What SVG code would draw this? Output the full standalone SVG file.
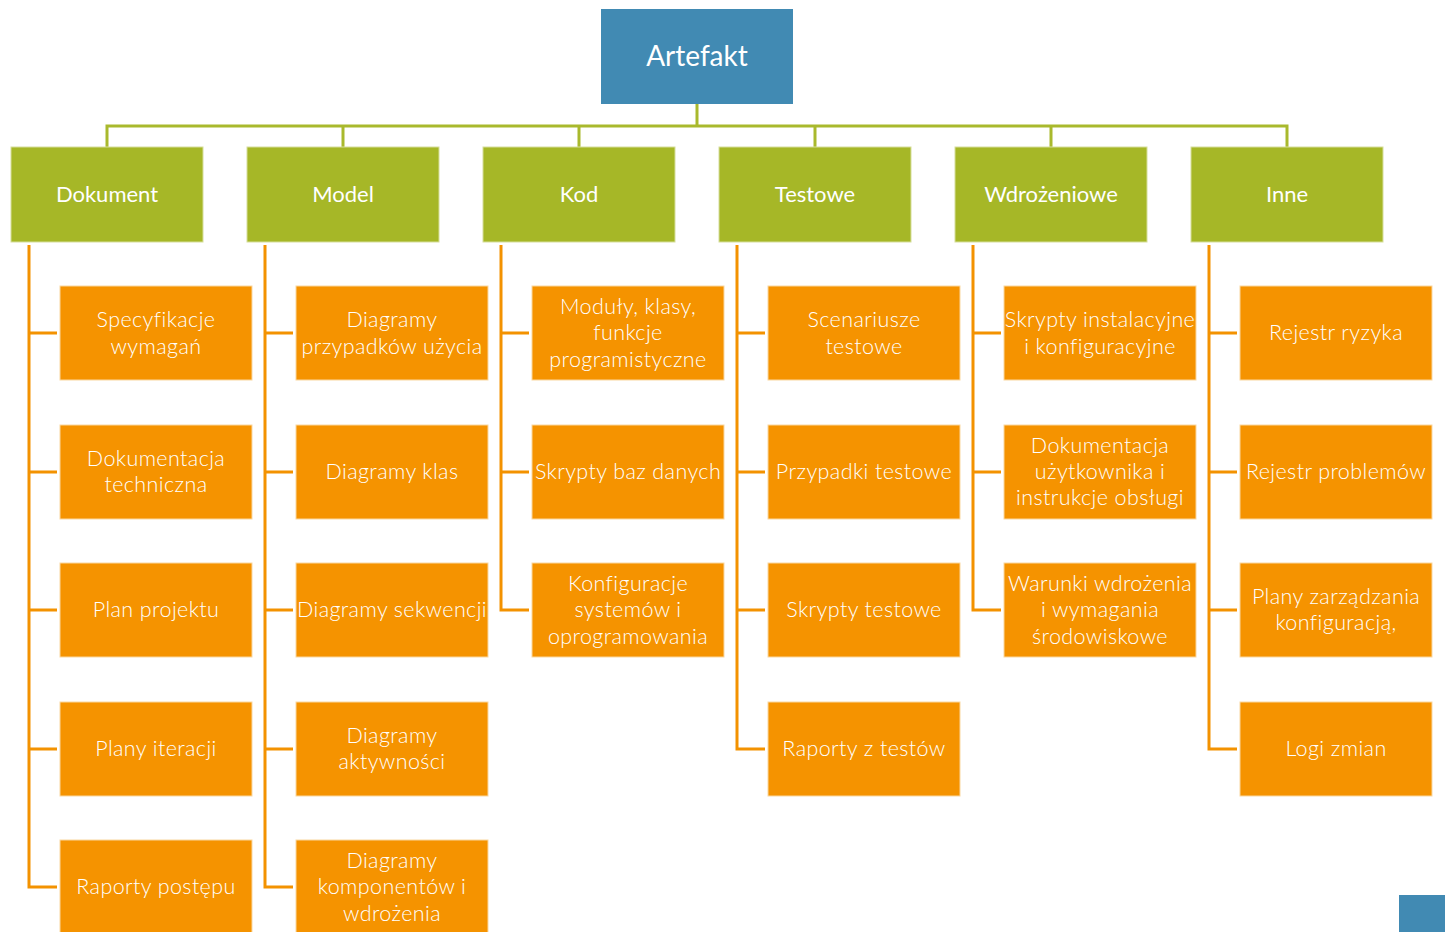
<svg xmlns="http://www.w3.org/2000/svg" width="1445" height="932" viewBox="0 0 1445 932">
  <style>
    .root { fill: #418AB3; }
    .cat { fill: #A6B727; stroke: #D6DE9C; stroke-width: 1; }
    .leaf { fill: #F59300; stroke: #FAD7A0; stroke-width: 1; }
    .bus { fill: none; stroke: #A9B92D; stroke-width: 3; }
    .branch { fill: none; stroke: #F39200; stroke-width: 3; stroke-linejoin: miter; }
    text { fill: #FFFFFF; text-anchor: middle; font-family: Lato, "Open Sans", "Liberation Sans", sans-serif; }
    .t-root { font-size: 28px; }
    .t-cat { font-size: 22px; }
    .t-leaf { font-size: 21.5px; font-weight: 300; letter-spacing: 0.4px; }
  </style>

  <rect width="1445" height="932" fill="#FFFFFF"/>

  <!-- connectors -->
  <g id="connectors">
    <path class="bus" d="M697 103 V126 M107 147 V126 H1287 V147 M343 126 V147 M579 126 V147 M815 126 V147 M1051 126 V147"/>
    <path class="branch" d="M29 245 V887 H57 M29 333 H57 M29 472 H57 M29 610 H57 M29 749 H57"/>
    <path class="branch" d="M265 245 V887 H293 M265 333 H293 M265 472 H293 M265 610 H293 M265 749 H293"/>
    <path class="branch" d="M501 245 V610 H529 M501 333 H529 M501 472 H529"/>
    <path class="branch" d="M737 245 V749 H765 M737 333 H765 M737 472 H765 M737 610 H765"/>
    <path class="branch" d="M973 245 V610 H1001 M973 333 H1001 M973 472 H1001"/>
    <path class="branch" d="M1209 245 V749 H1237 M1209 333 H1237 M1209 472 H1237 M1209 610 H1237"/>
  </g>

  <!-- root -->
  <g id="artefakt">
    <rect class="root" x="601" y="9" width="192" height="95"/>
    <text class="t-root" x="697" y="66">Artefakt</text>
  </g>

  <!-- categories -->
  <g id="dokument"><rect class="cat" x="11" y="147" width="192" height="95"/><text class="t-cat" x="107" y="202">Dokument</text></g>
  <g id="model"><rect class="cat" x="247" y="147" width="192" height="95"/><text class="t-cat" x="343" y="202">Model</text></g>
  <g id="kod"><rect class="cat" x="483" y="147" width="192" height="95"/><text class="t-cat" x="579" y="202">Kod</text></g>
  <g id="testowe"><rect class="cat" x="719" y="147" width="192" height="95"/><text class="t-cat" x="815" y="202">Testowe</text></g>
  <g id="wdrozeniowe"><rect class="cat" x="955" y="147" width="192" height="95"/><text class="t-cat" x="1051" y="202">Wdrożeniowe</text></g>
  <g id="inne"><rect class="cat" x="1191" y="147" width="192" height="95"/><text class="t-cat" x="1287" y="202">Inne</text></g>

  <!-- Dokument items -->
  <g id="dok-1"><rect class="leaf" x="60" y="286" width="192" height="94"/><text class="t-leaf" x="156" y="327">Specyfikacje</text><text class="t-leaf" x="156" y="354">wymagań</text></g>
  <g id="dok-2"><rect class="leaf" x="60" y="425" width="192" height="94"/><text class="t-leaf" x="156" y="466">Dokumentacja</text><text class="t-leaf" x="156" y="492">techniczna</text></g>
  <g id="dok-3"><rect class="leaf" x="60" y="563" width="192" height="94"/><text class="t-leaf" x="156" y="617">Plan projektu</text></g>
  <g id="dok-4"><rect class="leaf" x="60" y="702" width="192" height="94"/><text class="t-leaf" x="156" y="756">Plany iteracji</text></g>
  <g id="dok-5"><rect class="leaf" x="60" y="840" width="192" height="94"/><text class="t-leaf" x="156" y="894">Raporty postępu</text></g>

  <!-- Model items -->
  <g id="mod-1"><rect class="leaf" x="296" y="286" width="192" height="94"/><text class="t-leaf" x="392" y="327">Diagramy</text><text class="t-leaf" x="392" y="354">przypadków użycia</text></g>
  <g id="mod-2"><rect class="leaf" x="296" y="425" width="192" height="94"/><text class="t-leaf" x="392" y="479">Diagramy klas</text></g>
  <g id="mod-3"><rect class="leaf" x="296" y="563" width="192" height="94"/><text class="t-leaf" x="392" y="617">Diagramy sekwencji</text></g>
  <g id="mod-4"><rect class="leaf" x="296" y="702" width="192" height="94"/><text class="t-leaf" x="392" y="743">Diagramy</text><text class="t-leaf" x="392" y="769">aktywności</text></g>
  <g id="mod-5"><rect class="leaf" x="296" y="840" width="192" height="94"/><text class="t-leaf" x="392" y="868">Diagramy</text><text class="t-leaf" x="392" y="894">komponentów i</text><text class="t-leaf" x="392" y="921">wdrożenia</text></g>

  <!-- Kod items -->
  <g id="kod-1"><rect class="leaf" x="532" y="286" width="192" height="94"/><text class="t-leaf" x="628" y="314">Moduły, klasy,</text><text class="t-leaf" x="628" y="340">funkcje</text><text class="t-leaf" x="628" y="367">programistyczne</text></g>
  <g id="kod-2"><rect class="leaf" x="532" y="425" width="192" height="94"/><text class="t-leaf" x="628" y="479">Skrypty baz danych</text></g>
  <g id="kod-3"><rect class="leaf" x="532" y="563" width="192" height="94"/><text class="t-leaf" x="628" y="591">Konfiguracje</text><text class="t-leaf" x="628" y="617">systemów i</text><text class="t-leaf" x="628" y="644">oprogramowania</text></g>

  <!-- Testowe items -->
  <g id="test-1"><rect class="leaf" x="768" y="286" width="192" height="94"/><text class="t-leaf" x="864" y="327">Scenariusze</text><text class="t-leaf" x="864" y="354">testowe</text></g>
  <g id="test-2"><rect class="leaf" x="768" y="425" width="192" height="94"/><text class="t-leaf" x="864" y="479">Przypadki testowe</text></g>
  <g id="test-3"><rect class="leaf" x="768" y="563" width="192" height="94"/><text class="t-leaf" x="864" y="617">Skrypty testowe</text></g>
  <g id="test-4"><rect class="leaf" x="768" y="702" width="192" height="94"/><text class="t-leaf" x="864" y="756">Raporty z testów</text></g>

  <!-- Wdrożeniowe items -->
  <g id="wdr-1"><rect class="leaf" x="1004" y="286" width="192" height="94"/><text class="t-leaf" x="1100" y="327">Skrypty instalacyjne</text><text class="t-leaf" x="1100" y="354">i konfiguracyjne</text></g>
  <g id="wdr-2"><rect class="leaf" x="1004" y="425" width="192" height="94"/><text class="t-leaf" x="1100" y="453">Dokumentacja</text><text class="t-leaf" x="1100" y="479">użytkownika i</text><text class="t-leaf" x="1100" y="505">instrukcje obsługi</text></g>
  <g id="wdr-3"><rect class="leaf" x="1004" y="563" width="192" height="94"/><text class="t-leaf" x="1100" y="591">Warunki wdrożenia</text><text class="t-leaf" x="1100" y="617">i wymagania</text><text class="t-leaf" x="1100" y="644">środowiskowe</text></g>

  <!-- Inne items -->
  <g id="inne-1"><rect class="leaf" x="1240" y="286" width="192" height="94"/><text class="t-leaf" x="1336" y="340">Rejestr ryzyka</text></g>
  <g id="inne-2"><rect class="leaf" x="1240" y="425" width="192" height="94"/><text class="t-leaf" x="1336" y="479">Rejestr problemów</text></g>
  <g id="inne-3"><rect class="leaf" x="1240" y="563" width="192" height="94"/><text class="t-leaf" x="1336" y="604">Plany zarządzania</text><text class="t-leaf" x="1336" y="630">konfiguracją,</text></g>
  <g id="inne-4"><rect class="leaf" x="1240" y="702" width="192" height="94"/><text class="t-leaf" x="1336" y="756">Logi zmian</text></g>

  <!-- corner tab -->
  <rect id="corner-tab" x="1399" y="895" width="46" height="37" fill="#418AB3"/>
</svg>
